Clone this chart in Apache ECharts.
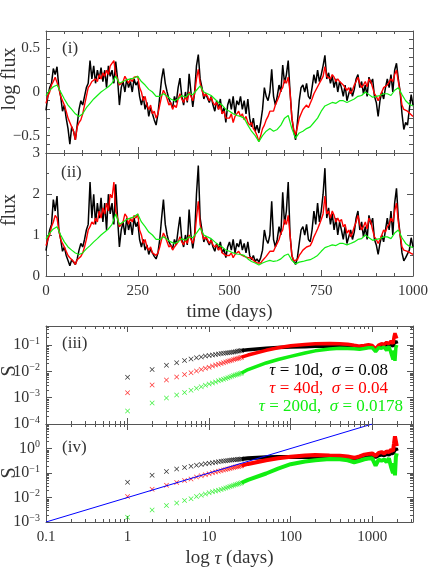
<!DOCTYPE html>
<html><head><meta charset="utf-8">
<script src="https://cdn.jsdelivr.net/npm/echarts@6/dist/echarts.min.js"></script>
<style>html,body{margin:0;padding:0;background:#fff}#c{width:436px;height:581px}</style>
</head><body><div id="c"></div>
<script>
// ---------- light curves: log10 flux, sampled every 5 days (black, red) / 10 days (green) ----------
const stepBlack = 5, stepRed = 5, stepGreen = 10;
const logFluxBlack = [
 -0.21,-0.05,0.05,0.10,0.27,0.20,0.29,0.05,-0.05,-0.22,-0.15,-0.30,-0.42,-0.60,-0.40,-0.45,-0.55,-0.38,-0.20,-0.10,-0.15,
 -0.05,0.05,0.10,0.36,0.15,0.30,0.10,0.25,0.15,0.28,0.12,0.25,0.05,0.30,0.18,0.25,0.10,0.35,0.15,-0.15,
 0.05,0.12,0.00,0.15,0.05,0.12,0.00,0.15,0.08,0.12,-0.05,-0.15,-0.05,-0.20,-0.12,-0.28,-0.18,-0.25,-0.32,-0.38,
 -0.25,-0.05,0.15,0.27,0.10,0.00,-0.08,-0.10,-0.18,-0.05,-0.12,0.05,0.16,-0.05,-0.15,0.00,-0.12,0.21,0.00,-0.17,
 0.00,0.30,0.43,0.15,0.05,-0.08,-0.02,0.00,-0.12,-0.05,-0.15,-0.22,-0.10,-0.20,-0.08,-0.25,-0.18,-0.35,-0.15,-0.08,
 -0.20,-0.05,-0.25,-0.10,-0.15,-0.05,-0.20,-0.10,-0.25,-0.08,-0.30,-0.40,-0.30,-0.45,-0.38,-0.47,-0.35,-0.20,0.05,-0.05,
 -0.10,0.00,0.26,-0.05,-0.15,-0.05,0.08,0.00,0.31,0.10,0.20,0.36,0.00,-0.30,-0.45,-0.55,-0.35,-0.10,0.05,0.08,
 0.00,0.10,-0.05,-0.08,0.05,0.20,0.10,0.25,0.12,0.20,0.30,0.42,0.15,0.22,0.10,0.18,0.05,0.15,0.00,0.12,
 0.05,-0.05,0.08,-0.10,-0.02,0.05,-0.05,0.03,0.15,0.20,0.05,0.12,-0.02,0.08,-0.05,0.17,0.10,0.15,-0.05,-0.12,
 -0.28,-0.10,0.00,-0.08,0.05,0.15,0.05,0.20,0.00,0.25,0.33,0.15,0.00,-0.25,-0.43,-0.35,-0.38,-0.20,-0.03,-0.15
];
const logFluxRed = [
 -0.13,-0.05,0.00,0.08,0.12,0.17,0.15,0.05,-0.05,-0.10,-0.15,-0.22,-0.30,-0.35,-0.40,-0.45,-0.55,-0.40,-0.35,-0.32,-0.25,
 -0.15,-0.05,0.05,0.08,0.12,0.10,0.15,0.12,0.20,0.15,0.22,0.18,0.25,0.20,0.30,0.28,0.36,0.20,0.15,0.08,
 0.10,0.12,0.18,0.16,0.10,0.15,0.12,0.17,0.15,0.18,0.05,0.00,-0.10,-0.05,-0.15,-0.20,-0.15,-0.25,-0.22,-0.30,
 -0.25,-0.15,-0.05,0.02,-0.02,-0.08,-0.15,-0.12,-0.20,-0.15,-0.18,-0.08,-0.02,-0.08,-0.12,-0.05,-0.10,0.00,-0.05,-0.10,
 -0.02,0.15,0.26,0.10,0.02,-0.05,-0.02,-0.05,-0.10,-0.06,-0.12,-0.15,-0.12,-0.20,-0.15,-0.25,-0.22,-0.30,-0.28,-0.30,
 -0.25,-0.35,-0.28,-0.30,-0.22,-0.28,-0.25,-0.32,-0.28,-0.35,-0.38,-0.35,-0.42,-0.45,-0.50,-0.57,-0.50,-0.42,-0.38,-0.32,
 -0.28,-0.22,-0.20,-0.22,-0.15,-0.10,-0.05,0.02,0.05,0.14,0.10,0.17,0.00,-0.30,-0.43,-0.49,-0.40,-0.30,-0.25,-0.20,
 -0.22,-0.15,-0.18,-0.13,-0.08,-0.02,0.02,0.06,0.10,0.14,0.18,0.29,0.18,0.20,0.15,0.20,0.17,0.12,0.15,0.12,
 0.14,0.08,0.10,0.02,0.05,-0.02,0.02,0.08,0.12,0.17,0.10,0.05,0.08,0.12,0.06,0.15,0.12,0.05,-0.02,-0.05,
 -0.10,-0.05,0.00,0.05,0.03,0.08,0.10,0.15,0.12,0.20,0.25,0.12,0.00,-0.15,-0.20,-0.18,-0.22,-0.20,-0.26,-0.28
];
const logFluxGreen = [
 -0.04,0.02,0.06,0.08,0.00,-0.08,-0.15,-0.20,-0.25,-0.28,-0.25,
 -0.18,-0.13,-0.08,-0.04,0.00,0.03,0.06,0.10,0.18,0.10,
 0.12,0.14,0.15,0.16,0.18,0.12,0.08,0.03,0.00,-0.05,
 -0.05,-0.02,-0.05,-0.08,-0.10,-0.08,-0.04,-0.06,-0.02,-0.03,
 0.02,0.07,0.00,-0.02,-0.04,-0.08,-0.12,-0.15,-0.20,-0.22,
 -0.25,-0.27,-0.28,-0.30,-0.38,-0.45,-0.50,-0.57,-0.50,-0.45,
 -0.42,-0.45,-0.43,-0.38,-0.30,-0.27,-0.42,-0.53,-0.47,-0.45,
 -0.42,-0.40,-0.35,-0.30,-0.22,-0.16,-0.14,-0.12,-0.13,-0.10,
 -0.10,-0.12,-0.10,-0.08,-0.05,-0.04,0.00,-0.03,-0.06,-0.05,
 -0.04,-0.02,-0.02,-0.04,0.02,0.05,-0.03,-0.10,-0.14,-0.16
];

// ---------- structure functions: log10 S ----------
const tauCross = [1,2,3,4,5,6,7,8,9,10,11,12,13,14,15,16,17,18,19,20,21,22,23,24,25];
const tauBand = [25,30,50,70,100,150,200,300,400,500,600,700,800,900,1000,1100,1200,1300,1400,1500,1600,1700,1800,1850,1900,1950,2000];
// panel (iii)
const sf3CrossBlack = [-2.22,-1.93,-1.77,-1.67,-1.59,-1.53,-1.48,-1.45,-1.42,-1.40,-1.38,-1.36,-1.34,-1.32,-1.31,-1.30,-1.29,-1.28,-1.27,-1.26,-1.25,-1.24,-1.23,-1.22,-1.21];
const sf3CrossRed   = [-2.81,-2.52,-2.33,-2.21,-2.12,-2.05,-1.99,-1.93,-1.88,-1.84,-1.80,-1.76,-1.73,-1.70,-1.67,-1.64,-1.62,-1.60,-1.58,-1.55,-1.53,-1.52,-1.50,-1.48,-1.46];
const sf3CrossGreen = [-3.51,-3.20,-3.01,-2.90,-2.80,-2.72,-2.64,-2.58,-2.53,-2.48,-2.44,-2.40,-2.36,-2.33,-2.30,-2.27,-2.24,-2.21,-2.19,-2.16,-2.14,-2.12,-2.10,-2.08,-2.06];
const sf3BandBlack = [-1.21,-1.18,-1.12,-1.09,-1.07,-1.06,-1.05,-1.05,-1.06,-1.07,-1.10,-1.11,-1.09,-1.07,-1.08,-1.18,-1.05,-1.00,-1.03,-0.98,-1.02,-0.97,-1.05,-0.95,-0.92,-0.85,-0.95];
const sf3BandRed   = [-1.46,-1.38,-1.20,-1.10,-1.03,-0.98,-0.95,-0.94,-0.95,-0.97,-1.01,-1.04,-1.02,-0.99,-1.02,-1.15,-1.00,-0.95,-0.98,-0.90,-0.95,-0.85,-0.95,-0.70,-0.55,-0.60,-0.75];
const sf3BandGreen = [-2.06,-1.93,-1.68,-1.55,-1.43,-1.30,-1.22,-1.15,-1.12,-1.13,-1.14,-1.16,-1.13,-1.10,-1.10,-1.25,-1.10,-1.12,-1.08,-1.20,-1.05,-1.30,-1.55,-1.20,-1.60,-1.10,-1.00];
// panel (iv)
const sf4CrossBlack = [-1.38,-1.09,-0.94,-0.84,-0.78,-0.72,-0.68,-0.65,-0.62,-0.60,-0.58,-0.56,-0.54,-0.52,-0.51,-0.50,-0.49,-0.48,-0.47,-0.46,-0.455,-0.45,-0.44,-0.435,-0.43];
const sf4CrossRed   = [-1.96,-1.66,-1.50,-1.39,-1.31,-1.24,-1.16,-1.11,-1.07,-1.03,-0.99,-0.96,-0.93,-0.91,-0.88,-0.86,-0.84,-0.82,-0.80,-0.78,-0.76,-0.74,-0.73,-0.71,-0.70];
const sf4CrossGreen = [-2.81,-2.51,-2.33,-2.22,-2.12,-2.05,-1.96,-1.91,-1.86,-1.81,-1.77,-1.73,-1.70,-1.67,-1.64,-1.61,-1.58,-1.55,-1.53,-1.50,-1.48,-1.46,-1.44,-1.42,-1.40];
const sf4BandBlack = [-0.43,-0.40,-0.36,-0.35,-0.35,-0.35,-0.35,-0.36,-0.37,-0.38,-0.42,-0.38,-0.33,-0.30,-0.28,-0.35,-0.28,-0.25,-0.28,-0.22,-0.25,-0.18,-0.20,-0.10,-0.15,0.00,-0.10];
const sf4BandRed   = [-0.70,-0.63,-0.48,-0.40,-0.34,-0.29,-0.27,-0.29,-0.30,-0.33,-0.38,-0.32,-0.25,-0.22,-0.20,-0.30,-0.18,-0.15,-0.20,-0.12,-0.15,-0.05,-0.10,0.20,0.50,0.45,0.10];
const sf4BandGreen = [-1.40,-1.28,-1.02,-0.82,-0.64,-0.53,-0.48,-0.43,-0.44,-0.48,-0.56,-0.50,-0.44,-0.41,-0.40,-0.70,-0.45,-0.50,-0.45,-0.55,-0.40,-0.75,-1.00,-0.60,-1.10,-0.35,-0.20];
// blue reference line S = 0.01 tau (end points)
const blueTau = [0.1, 1000];
const blueS = [0.001, 10];

const legendTexts = ['{i|τ} = 10d,  {i|σ} = 0.08', '{i|τ} = 40d,  {i|σ} = 0.04', '{i|τ} = 200d,  {i|σ} = 0.0178'];
const panelTags = ['(i)', '(ii)', '(iii)', '(iv)'];
const yNames = ['log flux', 'flux', 'S', 'S'];

// ---------- build ----------
const FONT = '"Liberation Serif", "DejaVu Serif", serif';
const AX = '#555', TX = '#333';
const BLACK = '#000000', RED = '#ff0000', GREEN = '#11ee11', BLUE = '#0000ff';
const p10 = v => Math.pow(10, v);
const lc = (arr, step, f) => arr.map((v, i) => [i * step, f ? f(v) : v]);
const pairs = (xs, ys) => xs.map((x, i) => [x, p10(ys[i])]);

function xLin(gi, pos, lab, name) {
  return {type:'value', gridIndex:gi, position:pos, min:0, max:1000, interval:250,
    axisLine:{show:true, onZero:false, lineStyle:{color:AX}},
    axisTick:{show:true, inside:true, length:6, lineStyle:{color:AX}},
    minorTick:{show:true, splitNumber:5, length:3, lineStyle:{color:AX}},
    splitLine:{show:false}, minorSplitLine:{show:false},
    axisLabel:{show:lab, margin:8, color:TX, fontFamily:FONT, fontSize:15, formatter: v => String(v)},
    name:name||'', nameLocation:'middle', nameGap:27,
    nameTextStyle:{color:TX, fontFamily:FONT, fontSize:19}};
}
function xLog(gi, pos, lab, name) {
  return {type:'log', logBase:10, gridIndex:gi, position:pos, min:0.1, max:3162,
    axisLine:{show:true, onZero:false, lineStyle:{color:AX}},
    axisTick:{show:true, inside:true, length:6, lineStyle:{color:AX}},
    splitLine:{show:false}, minorTick:{show:false},
    axisLabel:{show:lab, margin:8, color:TX, fontFamily:FONT, fontSize:15, showMaxLabel:false,
      formatter: v => v < 0.5 ? '0.1' : String(Math.round(v))},
    name:name||'', nameLocation:'middle', nameGap:27,
    nameTextStyle:{color:TX, fontFamily:FONT, fontSize:19, rich:{i:{fontStyle:'italic', fontFamily:FONT, fontSize:19, color:TX}}}};
}
function yBase(gi, pos, lab) {
  return {gridIndex:gi, position:pos,
    axisLine:{show:true, onZero:false, lineStyle:{color:AX}},
    axisTick:{show:true, inside:true, length:6, lineStyle:{color:AX}},
    splitLine:{show:false}, minorSplitLine:{show:false},
    axisLabel:{show:lab, margin:6, color:TX, fontFamily:FONT, fontSize:15}};
}
function yLogFlux(pos, lab) {
  const a = yBase(0, pos, lab);
  Object.assign(a, {type:'value', min:-0.7, max:0.7, interval:0.1});
  a.axisTick.length = 4;
  a.axisLabel.formatter = v => { const r = Math.round(v * 10); return r === 5 ? '0.5' : r === 0 ? '0' : r === -5 ? '−0.5' : ''; };
  return a;
}
function yFlux(pos, lab) {
  const a = yBase(1, pos, lab);
  Object.assign(a, {type:'value', min:0, max:3, interval:1});
  a.minorTick = {show:true, splitNumber:2, length:3, lineStyle:{color:AX}};
  return a;
}
const supFmt = v => { const e = Math.round(Math.log10(v)); return '10{s|' + (e < 0 ? '−' + (-e) : e) + '}'; };
function yLog(gi, pos, lab, mn, mx) {
  const a = yBase(gi, pos, lab);
  Object.assign(a, {type:'log', logBase:10, min:mn, max:mx});
  a.minorTick = {show:false};
  a.axisLabel.showMaxLabel = false;
  a.axisLabel.formatter = supFmt;
  a.axisLabel.fontSize = 16;
  a.axisLabel.rich = {s:{fontSize:10, fontFamily:FONT, color:TX, padding:[0,0,8,0]}};
  return a;
}

// minor log ticks (axis decorations)
function minorLog(lo, hi, nlo, nhi) {
  const out = [];
  for (let n = nlo; n <= nhi; n++) for (let k = 2; k <= 9; k++) { const v = k * Math.pow(10, n); if (v > lo && v < hi) out.push(v); }
  return out;
}
function tickData(xlo, xhi, ylo, yhi) {
  const d = [];
  minorLog(xlo, xhi, -1, 3).forEach(v => d.push([v, Math.sqrt(ylo * yhi), 0]));
  minorLog(ylo, yhi, -4, 1).forEach(v => d.push([1, v, 1]));
  return d;
}
function tickRender(params, api) {
  const cs = params.coordSys, L = 3;
  const p = api.coord([api.value(0), api.value(1)]);
  const st = {stroke:AX, lineWidth:1};
  if (api.value(2) === 0) {
    const x = Math.round(p[0]) + 0.5;
    return {type:'group', children:[
      {type:'line', shape:{x1:x, y1:cs.y + cs.height, x2:x, y2:cs.y + cs.height - L}, style:st},
      {type:'line', shape:{x1:x, y1:cs.y, x2:x, y2:cs.y + L}, style:st}]};
  }
  const y = Math.round(p[1]) + 0.5;
  return {type:'group', children:[
    {type:'line', shape:{x1:cs.x, y1:y, x2:cs.x + L, y2:y}, style:st},
    {type:'line', shape:{x1:cs.x + cs.width, y1:y, x2:cs.x + cs.width - L, y2:y}, style:st}]};
}

const CROSS = 'path://M0,1L1,0L5,4L9,0L10,1L6,5L10,9L9,10L5,6L1,10L0,9L4,5Z';
function crossSeries(xi, ys, col) {
  return {type:'scatter', xAxisIndex:xi, yAxisIndex:xi, data:pairs(tauCross, ys), symbol:CROSS, symbolSize:5,
    itemStyle:{color:col}, silent:true, z:3};
}
function bandSeries(xi, ys, col, w) {
  return {type:'line', xAxisIndex:xi, yAxisIndex:xi, data:pairs(tauBand, ys), showSymbol:false, symbol:'none',
    lineStyle:{color:col, width:w}, silent:true, z:3};
}
function lcSeries(xi, arr, step, col, w, f) {
  return {type:'line', xAxisIndex:xi, yAxisIndex:xi, data:lc(arr, step, f), showSymbol:false, symbol:'none',
    lineStyle:{color:col, width:w}, silent:true, z:3};
}
function tag(text, x, y) {
  return {type:'text', x, y, style:{text, font:'17px ' + FONT, fill:TX, verticalAlign:'middle'}};
}
function yName(text, x, y) {
  return {type:'text', x, y, rotation:Math.PI / 2, style:{text, font:'20px ' + FONT, fill:TX, align:'center', verticalAlign:'middle'}};
}
function legendText(text, x, y, col) {
  return {type:'text', x, y, style:{text, font:'17px ' + FONT, fill:col, align:'right', verticalAlign:'middle',
    rich:{i:{fontStyle:'italic', fontFamily:FONT, fontSize:17, fill:col}}}};
}

const option = {
  animation:false, backgroundColor:'#fff',
  grid:[
    {left:46, top:31, width:367, height:122, outerBoundsMode:'none'},
    {left:46, top:153, width:367, height:123, outerBoundsMode:'none'},
    {left:46, top:326, width:367, height:98, outerBoundsMode:'none'},
    {left:46, top:424, width:367, height:98, outerBoundsMode:'none'}
  ],
  xAxis:[
    xLin(0,'bottom',false), xLin(0,'top',false),
    xLin(1,'bottom',true,'time (days)'), xLin(1,'top',false),
    xLog(2,'bottom',false), xLog(2,'top',false),
    xLog(3,'bottom',true,'log {i|τ} (days)'), xLog(3,'top',false)
  ],
  yAxis:[
    yLogFlux('left',true), yLogFlux('right',false),
    yFlux('left',true), yFlux('right',false),
    yLog(2,'left',true,1e-4,0.53), yLog(2,'right',false,1e-4,0.53),
    yLog(3,'left',true,1e-3,10), yLog(3,'right',false,1e-3,10)
  ],
  series:[
    lcSeries(0, logFluxBlack, stepBlack, BLACK, 1.5),
    lcSeries(0, logFluxRed, stepRed, RED, 1.4),
    lcSeries(0, logFluxGreen, stepGreen, GREEN, 1.2),
    lcSeries(2, logFluxBlack, stepBlack, BLACK, 1.5, p10),
    lcSeries(2, logFluxRed, stepRed, RED, 1.4, p10),
    lcSeries(2, logFluxGreen, stepGreen, GREEN, 1.2, p10),
    crossSeries(4, sf3CrossBlack, BLACK), bandSeries(4, sf3BandBlack, BLACK, 3.5),
    crossSeries(4, sf3CrossRed, RED), bandSeries(4, sf3BandRed, RED, 3.5),
    crossSeries(4, sf3CrossGreen, GREEN), bandSeries(4, sf3BandGreen, GREEN, 3.5),
    crossSeries(6, sf4CrossBlack, BLACK), bandSeries(6, sf4BandBlack, BLACK, 4),
    crossSeries(6, sf4CrossRed, RED), bandSeries(6, sf4BandRed, RED, 4),
    crossSeries(6, sf4CrossGreen, GREEN), bandSeries(6, sf4BandGreen, GREEN, 4),
    {type:'line', xAxisIndex:6, yAxisIndex:6, data:blueTau.map((t,i)=>[t, blueS[i]]), showSymbol:false, symbol:'none',
     lineStyle:{color:BLUE, width:1}, silent:true, z:4},
    {type:'custom', xAxisIndex:4, yAxisIndex:4, data:tickData(0.1,3162,1e-4,0.53), renderItem:tickRender, silent:true, clip:false, z:5},
    {type:'custom', xAxisIndex:6, yAxisIndex:6, data:tickData(0.1,3162,1e-3,10), renderItem:tickRender, silent:true, clip:false, z:5}
  ],
  graphic:[
    tag(panelTags[0], 62, 49), tag(panelTags[1], 61, 173), tag(panelTags[2], 62, 344), tag(panelTags[3], 62, 448),
    yName(yNames[0], 10, 79), yName(yNames[1], 10, 210), yName(yNames[2], 10, 371), yName(yNames[3], 10, 473),
    legendText(legendTexts[0], 388, 371, BLACK),
    legendText(legendTexts[1], 388, 389, RED),
    legendText(legendTexts[2], 403, 407, GREEN)
  ]
};
const chart = echarts.init(document.getElementById('c'), null, {renderer:'canvas'});
chart.setOption(option);
</script>
</body></html>
